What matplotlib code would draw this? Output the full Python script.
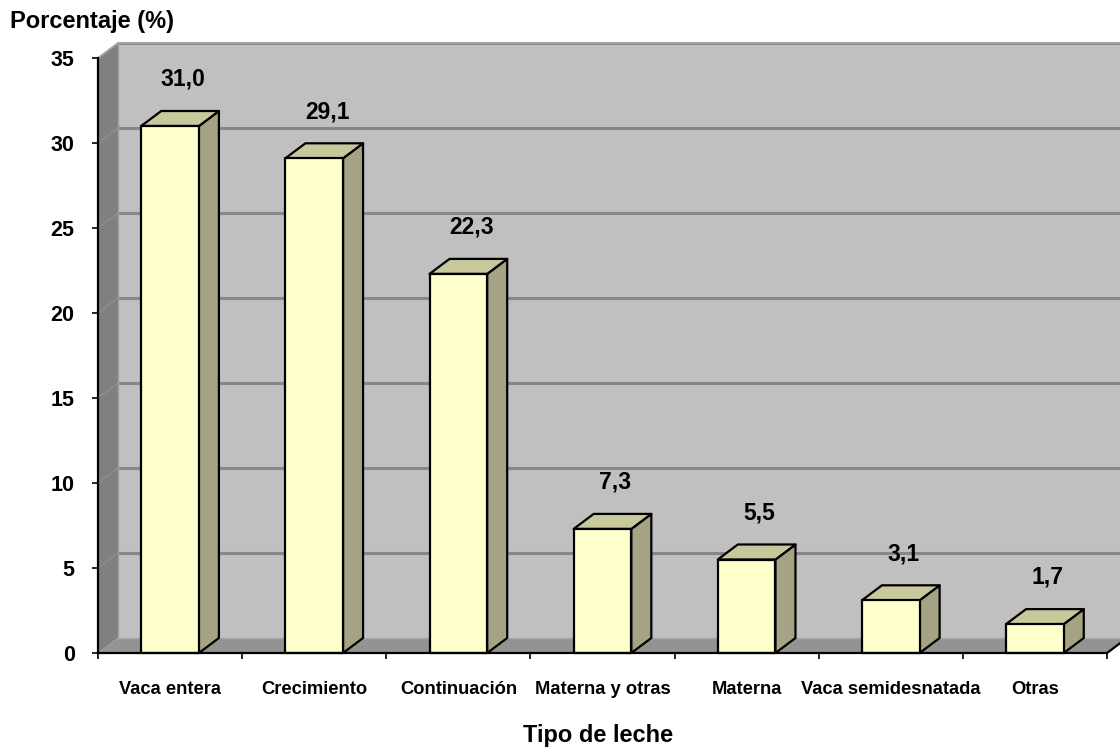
import matplotlib
matplotlib.use("Agg")
import matplotlib.pyplot as plt
from matplotlib.patches import Polygon

categories = ["Vaca entera", "Crecimiento", "Continuación", "Materna y otras",
              "Materna", "Vaca semidesnatada", "Otras"]
values = [31.0, 29.1, 22.3, 7.3, 5.5, 3.1, 1.7]
value_labels = ["31,0", "29,1", "22,3", "7,3", "5,5", "3,1", "1,7"]
y_ticks = [0, 5, 10, 15, 20, 25, 30, 35]
y_title = "Porcentaje (%)"
x_title = "Tipo de leche"

plt.rcParams["font.family"] = ["Liberation Sans", "DejaVu Sans"]
plt.rcParams["font.weight"] = "bold"

W, H = 1120, 751
fig = plt.figure(figsize=(W / 100, H / 100), dpi=100)
ax = fig.add_axes([98 / W, (H - 653) / H, 1009 / W, 595 / H])

n = len(categories)
ymax = 35
ax.set_xlim(0, n)
ax.set_ylim(0, ymax)

# depth of the pseudo-3D box, expressed in data units
px_x = 1009 / n
px_y = 595 / ymax
DX = 20 / px_x
DY = 15 / px_y

wall_back = "#c0c0c0"
wall_side = "#808080"
floor_col = "#939393"
grid_col = "#878787"

# back wall
ax.add_patch(Polygon([(DX, DY), (n + DX, DY), (n + DX, ymax + DY), (DX, ymax + DY)],
                     closed=True, fc=wall_back, ec="none", clip_on=False, zorder=0))
# left wall
ax.add_patch(Polygon([(0, 0), (DX, DY), (DX, ymax + DY), (0, ymax)],
                     closed=True, fc=wall_side, ec="none", clip_on=False, zorder=1))
# floor
ax.add_patch(Polygon([(0, 0), (n, 0), (n + DX, DY), (DX, DY)],
                     closed=True, fc=floor_col, ec="none", clip_on=False, zorder=1))

# gridlines on back wall and side wall
for t in y_ticks[1:]:
    ax.plot([DX, n + DX], [t + DY, t + DY], color=grid_col, lw=2.2,
            clip_on=False, zorder=0.5, solid_capstyle="butt")
    ax.plot([0, DX], [t, t + DY], color="#8e8e8e", lw=1.0, clip_on=False, zorder=1.5)
# light edges where the walls meet
ax.plot([DX, DX], [DY, ymax + DY], color="#a0a0a0", lw=1.0, clip_on=False, zorder=1.5)
ax.plot([DX, n + DX], [DY, DY], color="#a8a8a8", lw=1.0, clip_on=False, zorder=1.5)
ax.plot([0, DX, n + DX], [ymax, ymax + DY, ymax + DY], color="#a8a8a8", lw=1.2,
        clip_on=False, zorder=1.5)

# bars: front, side and top faces
front_col = "#ffffcc"
side_col = "#a5a383"
top_col = "#c9c89c"
bw = 0.4
for i, v in enumerate(values):
    c = i + 0.5
    x0, x1 = c - bw / 2, c + bw / 2
    kw = dict(closed=True, ec="black", lw=1.6, clip_on=False, zorder=3,
              joinstyle="round")
    ax.add_patch(Polygon([(x1, 0), (x1 + DX, DY), (x1 + DX, v + DY), (x1, v)],
                         fc=side_col, **kw))
    ax.add_patch(Polygon([(x0, v), (x1, v), (x1 + DX, v + DY), (x0 + DX, v + DY)],
                         fc=top_col, **kw))
    ax.add_patch(Polygon([(x0, 0), (x1, 0), (x1, v), (x0, v)],
                         fc=front_col, **kw))
    ax.text(c + DX * 0.65, v + 2.75, value_labels[i], ha="center", va="center",
            fontsize=16.5, fontweight="bold", zorder=4)

# axes lines
ax.plot([0, n], [0, 0], color="black", lw=1.6, clip_on=False, zorder=5)
ax.plot([n, n + DX], [0, DY], color="black", lw=1.6, clip_on=False, zorder=5)
ax.plot([0, 0], [0, ymax], color="black", lw=1.6, clip_on=False, zorder=5)

for s in ax.spines.values():
    s.set_visible(False)
ax.patch.set_visible(False)

ax.set_yticks(y_ticks)
ax.set_yticklabels([str(t) for t in y_ticks])
ax.set_xticks(range(n + 1))
ax.set_xticklabels([])
ax.tick_params(axis="y", direction="out", length=4.3, width=1.2, pad=12.5,
               labelsize=15.5)
ax.tick_params(axis="x", direction="out", length=4.3, width=1.2)
for lab in ax.get_yticklabels():
    lab.set_fontweight("bold")

for i, name in enumerate(categories):
    ax.text(i + 0.5, -41 / px_y, name, ha="center", va="baseline", fontsize=13.2,
            fontweight="bold")

fig.text(10 / W, 1 - 28 / H, y_title, ha="left", va="baseline", fontsize=17,
         fontweight="bold")
fig.text(598 / W, 1 - 742 / H, x_title, ha="center", va="baseline", fontsize=17,
         fontweight="bold")

fig.savefig("out.png", dpi=100)
